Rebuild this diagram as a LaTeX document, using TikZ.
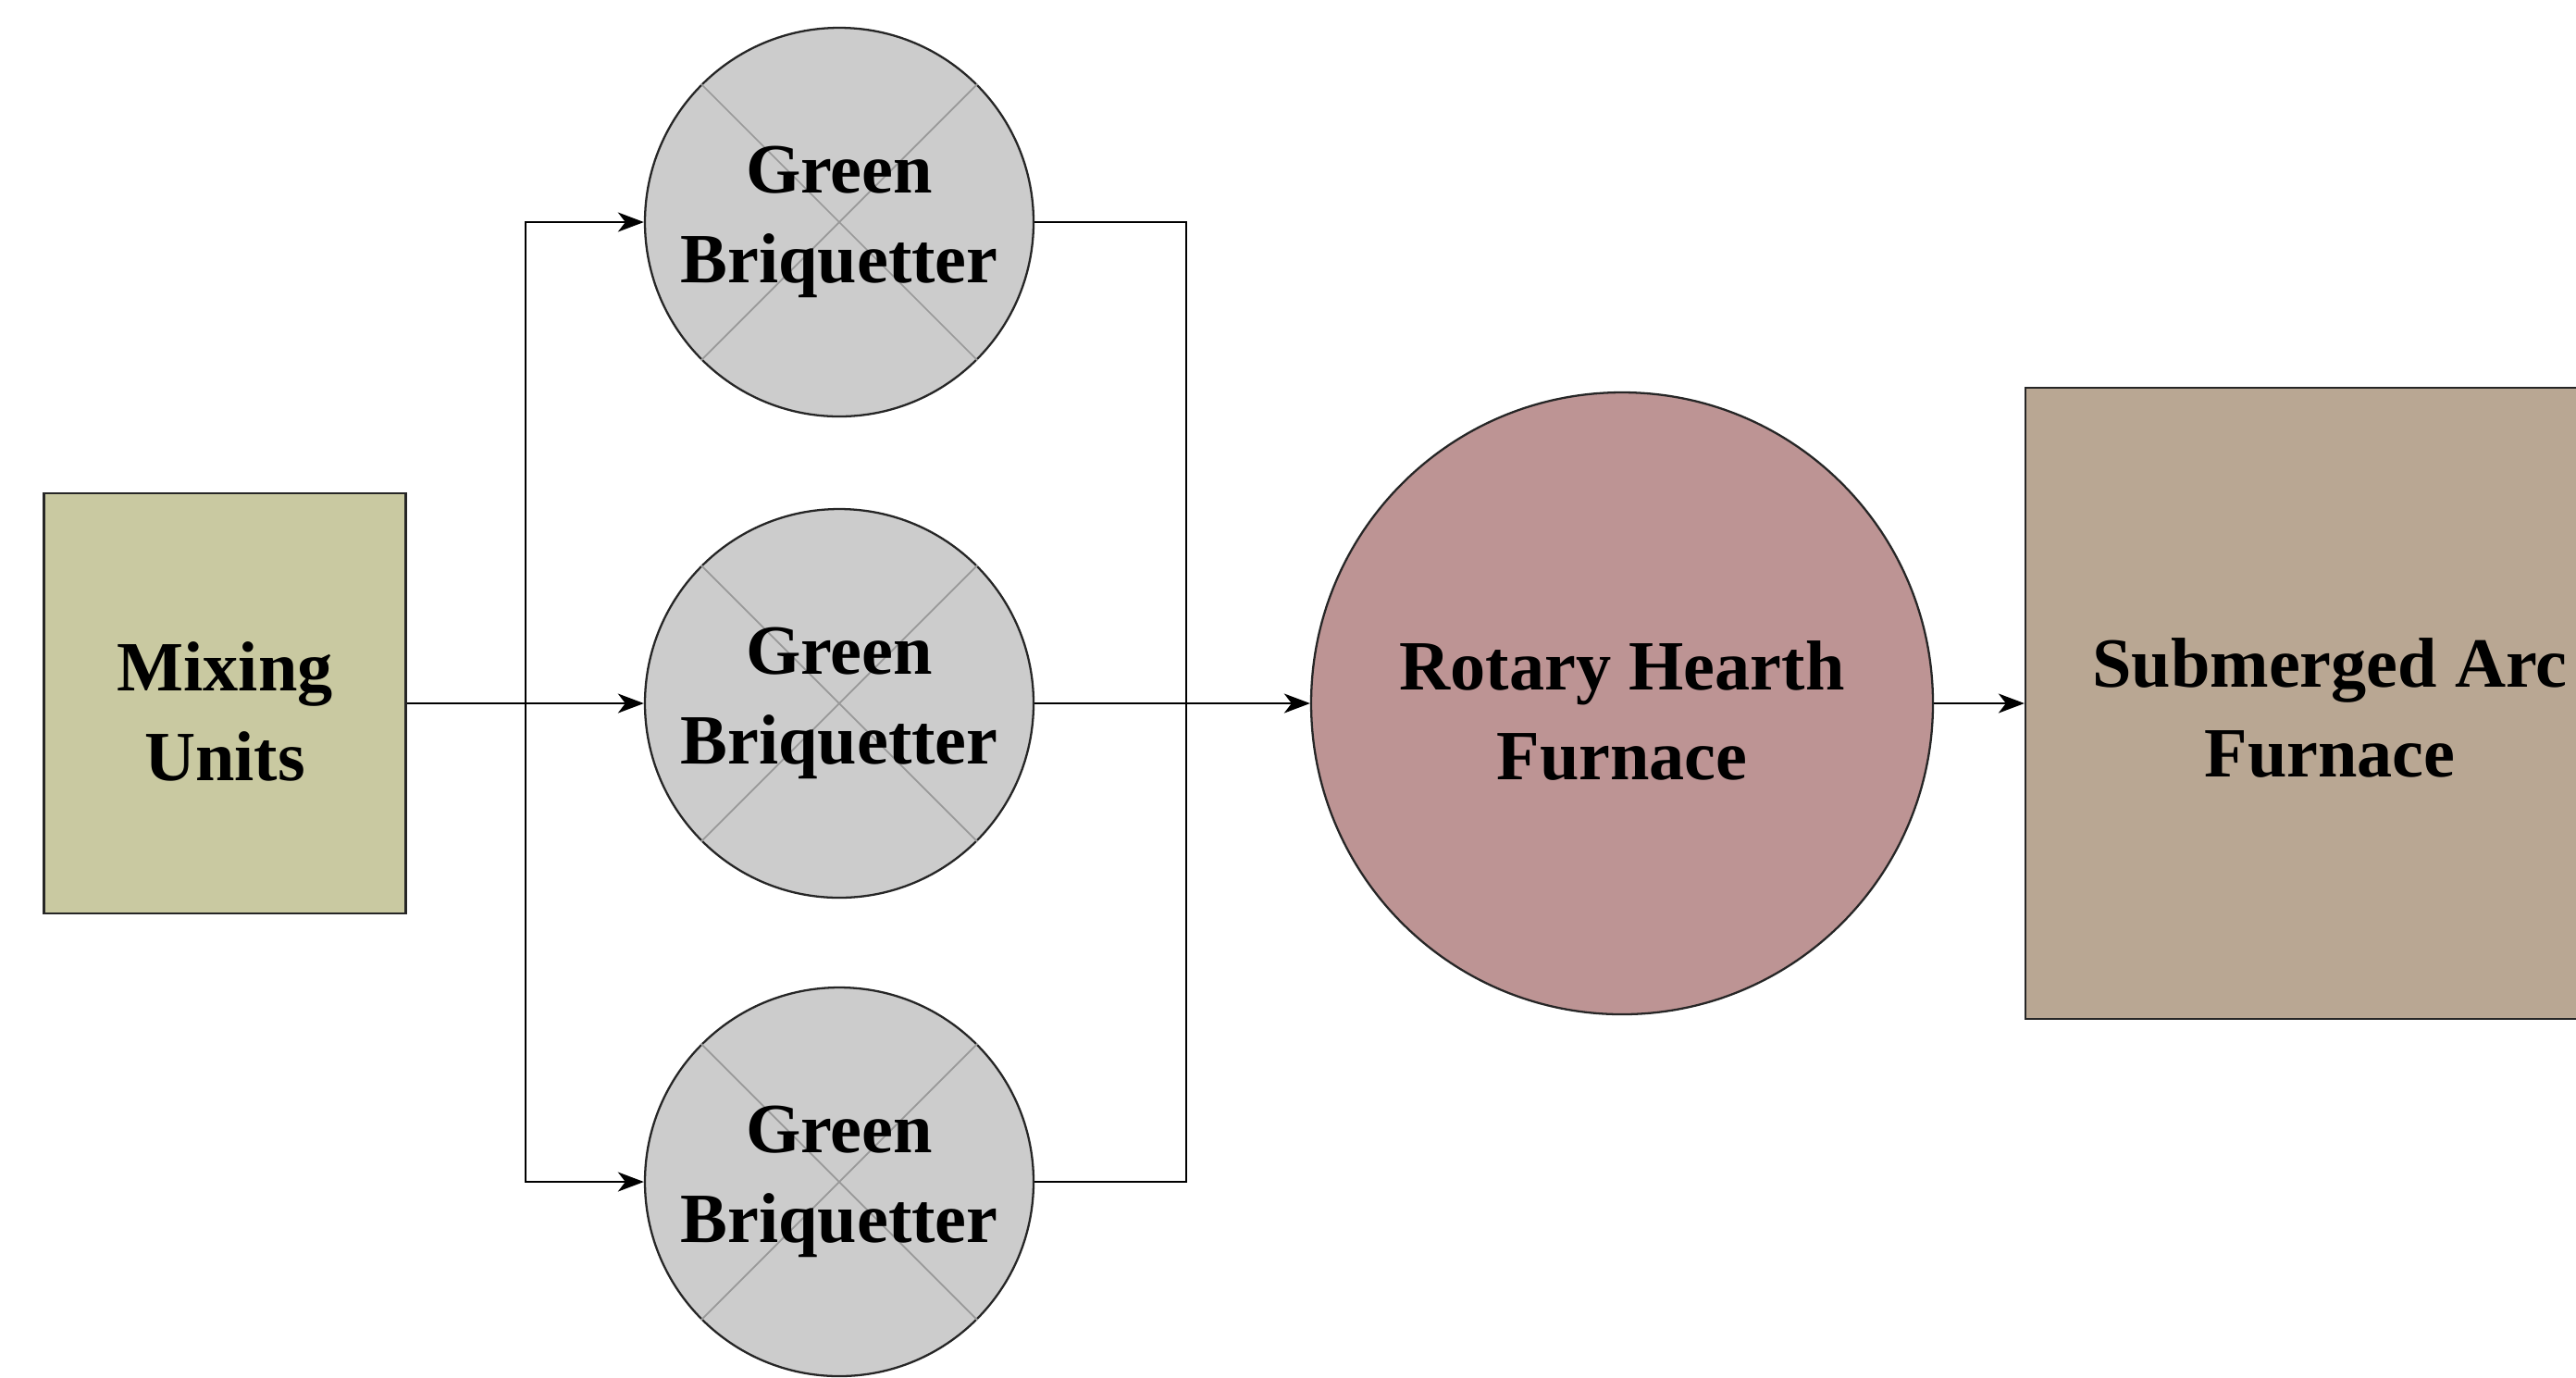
\documentclass[tikz,border=0pt]{standalone}
\usepackage{fontspec}
\setmainfont{Liberation Serif}
\usetikzlibrary{arrows.meta}

\definecolor{mixcol}{RGB}{201,201,161}
\definecolor{briqcol}{RGB}{204,204,204}
\definecolor{rhfcol}{RGB}{189,148,148}
\definecolor{safcol}{RGB}{185,167,147}

\begin{document}
\begin{tikzpicture}[
            font=\fontsize{21.7}{27.5}\selectfont\bfseries,
            every node/.style={align=center, draw=black!85, line width=0.65pt, inner sep=0pt},
            unitbox/.style={rectangle, fill=mixcol, minimum width=3.91cm, minimum height=4.54cm},
            briq/.style={circle, fill=briqcol, minimum size=4.2cm},
            furnace/.style={circle, fill=rhfcol, minimum size=6.72cm},
            arcbox/.style={rectangle, fill=safcol, minimum width=6.58cm, minimum height=6.82cm},
            caption/.style={draw=none, fill=none},
            link/.style={line width=0.65pt},
            feed/.style={link, -{Stealth[length=2.8mm, width=2.1mm, inset=0.8mm]}}
        ]
            \useasboundingbox (0, 0) rectangle (27.84, -14.88);
            \clip (0, 0) rectangle (27.84, -14.88);

            \node[unitbox] (mix) at (2.43, -7.60) {};
            \node[caption] at ([yshift=-0.09cm]mix) {Mixing\\Units};
            \node[briq] (bq1) at (9.07, -2.40) {};
            \node[briq] (bq2) at (9.07, -7.60) {};
            \node[briq] (bq3) at (9.07, -12.77) {};
            \foreach \b in {bq1, bq2, bq3} {
                \draw[black!40, line width=0.5pt] (\b.north west) -- (\b.south east);
                \draw[black!40, line width=0.5pt] (\b.north east) -- (\b.south west);
                \node[caption] at (\b) {Green\\Briquetter};
            }
            \node[furnace] (rhf) at (17.53, -7.60) {};
            \node[caption] at ([yshift=-0.08cm]rhf) {Rotary Hearth\\Furnace};
            \node[arcbox] (saf) at (25.18, -7.60) {};
            \node[caption] at ([yshift=-0.05cm]saf) {Submerged Arc\\Furnace};

            \coordinate (split) at (5.68, -7.60);
            \coordinate (merge) at (12.82, -7.60);

            \draw[feed] (mix.east) -- (bq2.west);
            \draw[feed] (split) |- (bq1.west);
            \draw[feed] (split) |- (bq3.west);
            \draw[link] (bq1.east) -| (merge);
            \draw[link] (bq3.east) -| (merge);
            \draw[feed] (bq2.east) -- (rhf.west);
            \draw[feed] (rhf.east) -- (saf.west);
        \end{tikzpicture}
\end{document}
